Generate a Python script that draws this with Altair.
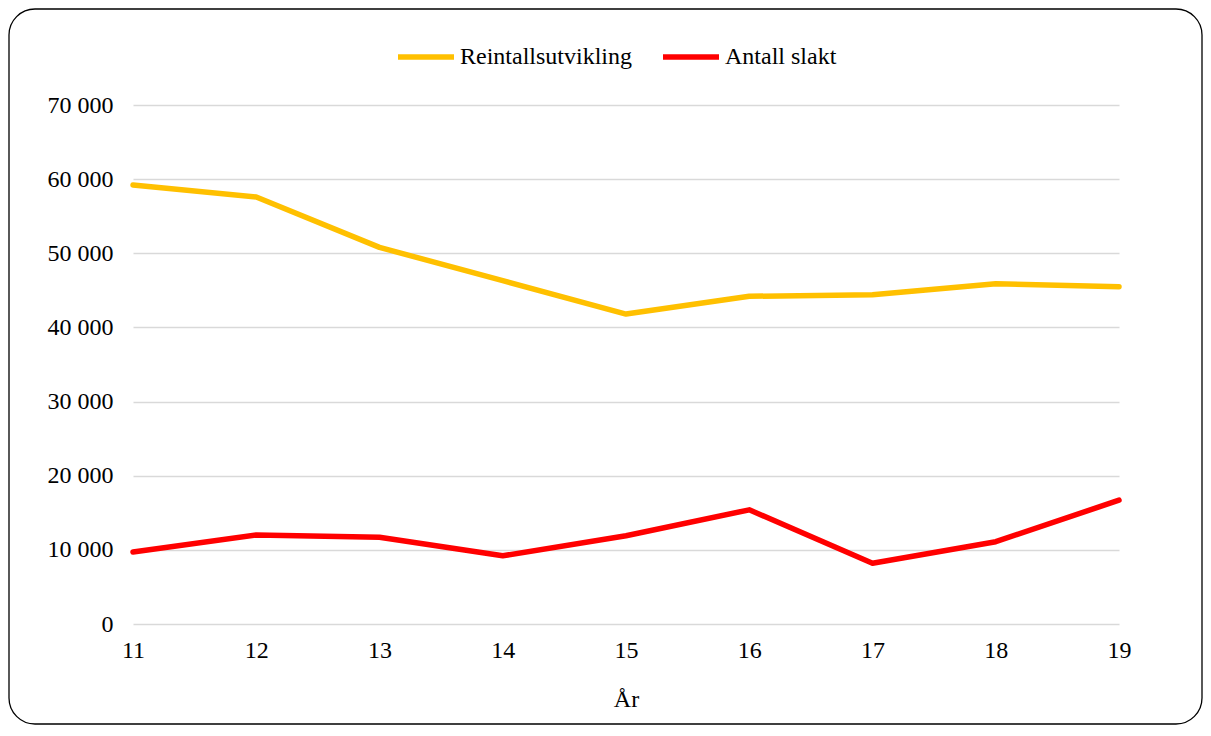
import altair as alt
import pandas as pd

years = [11, 12, 13, 14, 15, 16, 17, 18, 19]
reintall = [59200, 57600, 50800, 46300, 41800, 44200, 44400, 45900, 45500]
slakt = [9700, 12000, 11700, 9200, 11900, 15400, 8200, 11100, 16700]
series_names = ["Reintallsutvikling", "Antall slakt"]
series_colors = ["#FFC000", "#FF0000"]

rows = []
for y, v in zip(years, reintall):
    rows.append({"year": y, "series": series_names[0], "value": v})
for y, v in zip(years, slakt):
    rows.append({"year": y, "series": series_names[1], "value": v})
df = pd.DataFrame(rows)

FONT = "Liberation Serif"

lines = alt.Chart(df).mark_line(strokeWidth=5.5, strokeCap="round", strokeJoin="round").encode(
    x=alt.X("year:O", scale=alt.Scale(type="point", padding=0),
            axis=alt.Axis(title="År", labelAngle=0, ticks=False, domain=False, grid=False,
                          labelFont=FONT, labelFontSize=24, labelColor="black", labelPadding=14,
                          titleFont=FONT, titleFontSize=24, titleFontWeight="normal",
                          titleColor="black", titlePadding=25)),
    y=alt.Y("value:Q", scale=alt.Scale(domain=[0, 70000]),
            axis=alt.Axis(title=None, values=[0, 10000, 20000, 30000, 40000, 50000, 60000, 70000],
                          ticks=False, domain=False, gridColor="#d9d9d9", gridWidth=1.5,
                          labelFont=FONT, labelFontSize=24, labelColor="black", labelPadding=20,
                          labelExpr="replace(format(datum.value, ','), regexp(',', 'g'), ' ')")),
    color=alt.Color("series:N", scale=alt.Scale(domain=series_names, range=series_colors),
                    legend=alt.Legend(title=None, orient="none", legendX=262, legendY=-79,
                                      direction="horizontal", symbolType="stroke",
                                      symbolSize=3136, symbolStrokeWidth=5.5,
                                      labelFont=FONT, labelFontSize=24, labelColor="black",
                                      labelLimit=0, labelOffset=3, columnPadding=20, padding=0)),
)

border = alt.Chart(pd.DataFrame({"a": [0]})).mark_rect(
    fill="transparent", stroke="black", strokeWidth=1.3, cornerRadius=26
).encode(
    x=alt.value(-124), x2=alt.value(1069), y=alt.value(-96), y2=alt.value(619)
)

chart = alt.layer(border, lines).properties(
    width=986, height=519,
    autosize=alt.AutoSizeParams(type="none"),
    padding={"left": 125, "top": 97, "right": 84, "bottom": 104},
).configure_view(strokeWidth=0)

chart.save("out.html", embed_options={"renderer": "svg", "actions": False})
